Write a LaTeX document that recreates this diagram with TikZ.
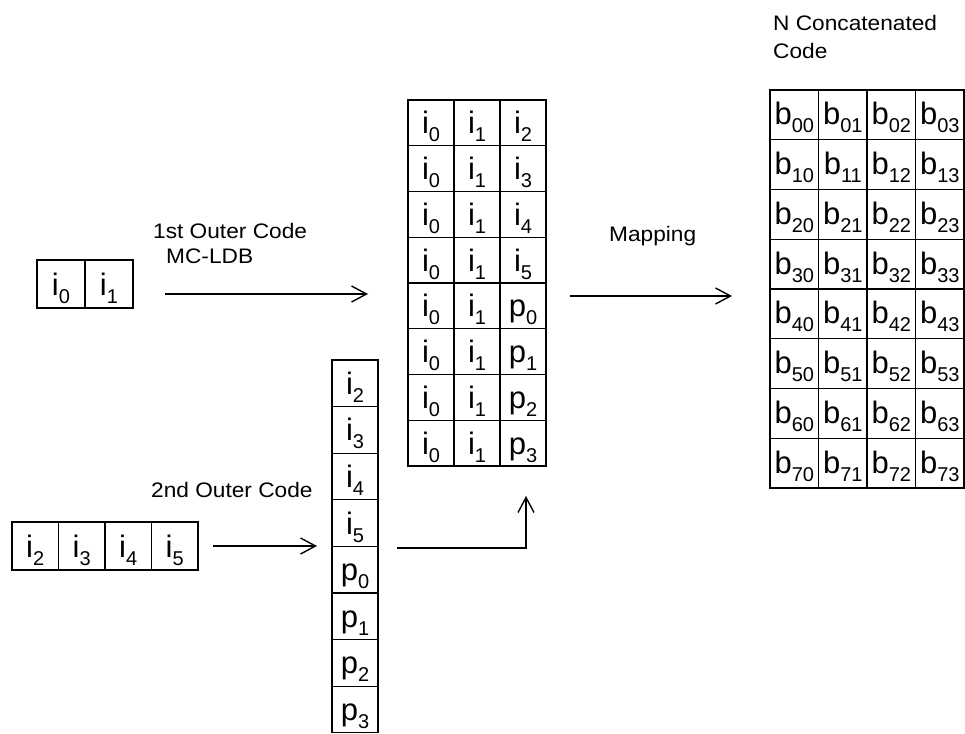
\documentclass[tikz,border=0pt]{standalone}
\usepackage{fontspec}
\setmainfont{Liberation Sans}
\newfontfamily\labelfam[FakeStretch=1.08]{Liberation Sans}
\usetikzlibrary{arrows.meta}
\newcommand\celltxt[2]{#1\raisebox{-8pt}{\fontsize{20}{20}\selectfont #2}}
\begin{document}
\begin{tikzpicture}[x=1pt,y=-1pt,
  cellbox/.style={draw, line width=1.3pt, inner sep=0pt, font=\fontsize{31}{31}\selectfont, text height=22pt, text depth=0pt},
  arr/.style={line width=1.4pt, -{Straight Barb[length=15pt,width=16pt]}},
  lbl/.style={font=\labelfam\fontsize{21}{21}\selectfont, inner sep=0pt, anchor=base west}]
\useasboundingbox (0,0) rectangle (965,733);

% top-left input i0 i1
\node[cellbox, minimum width=48pt, minimum height=48pt] (tl0) at (61,284) {\celltxt{i}{0}};
\node[cellbox, minimum width=48pt, minimum height=48pt] (tl1) at (109,284) {\celltxt{i}{1}};

% middle matrix and vertical column
\foreach \r/\letr/\digs in {0/i/2,1/i/3,2/i/4,3/i/5,4/p/0,5/p/1,6/p/2,7/p/3} {
  \node[cellbox, minimum width=46pt, minimum height=45.75pt] (m-\r-0) at (431,{100+45.75*(\r+0.5)}) {\celltxt{i}{0}};
  \node[cellbox, minimum width=46pt, minimum height=45.75pt] (m-\r-1) at (477,{100+45.75*(\r+0.5)}) {\celltxt{i}{1}};
  \node[cellbox, minimum width=46pt, minimum height=45.75pt] (m-\r-2) at (523,{100+45.75*(\r+0.5)}) {\celltxt{\letr}{\digs}};
  \node[cellbox, minimum width=46pt, minimum height=46.6pt] (v-\r) at (355,{360+46.6*(\r+0.5)}) {\celltxt{\letr}{\digs}};
}

% bottom-left input i2..i5
\foreach \k/\digs in {0/2,1/3,2/4,3/5}
  \node[cellbox, minimum width=46.5pt, minimum height=48pt] (bl-\k) at ({12+46.5*(\k+0.5)},546) {\celltxt{i}{\digs}};

% right matrix
\foreach \r in {0,...,7}
  \foreach \c in {0,...,3}
    \node[cellbox, minimum width=48.5pt, minimum height=49.75pt, text height=20pt] (r-\r-\c) at ({770+48.5*(\c+0.5)},{90+49.75*(\r+0.5)}) {\celltxt{b}{\r\c}};

% arrows
\coordinate (a1s) at (165,294); \coordinate (a1e) at (368,294);
\draw[arr] (a1s) -- (a1e);
\coordinate (a2s) at (213,546); \coordinate (a2e) at (317,546);
\draw[arr] (a2s) -- (a2e);
\coordinate (a3s) at (397,548); \coordinate (a3e) at (526,496);
\draw[arr] (a3s) -| (a3e);
\coordinate (a4s) at (570,296); \coordinate (a4e) at (732,296);
\draw[arr] (a4s) -- (a4e);

% labels
\node[lbl] (l1a) at (153,238) {1st Outer Code};
\node[lbl] (l1b) at (166,263) {MC-LDB};
\node[lbl] (l2) at (151,497) {2nd Outer Code};
\node[lbl] (l3) at (609,241) {Mapping};
\node[lbl] (l4a) at (773,31) {N Concatenated};
\node[lbl] (l4b) at (773,59) {Code};
\end{tikzpicture}
\end{document}
